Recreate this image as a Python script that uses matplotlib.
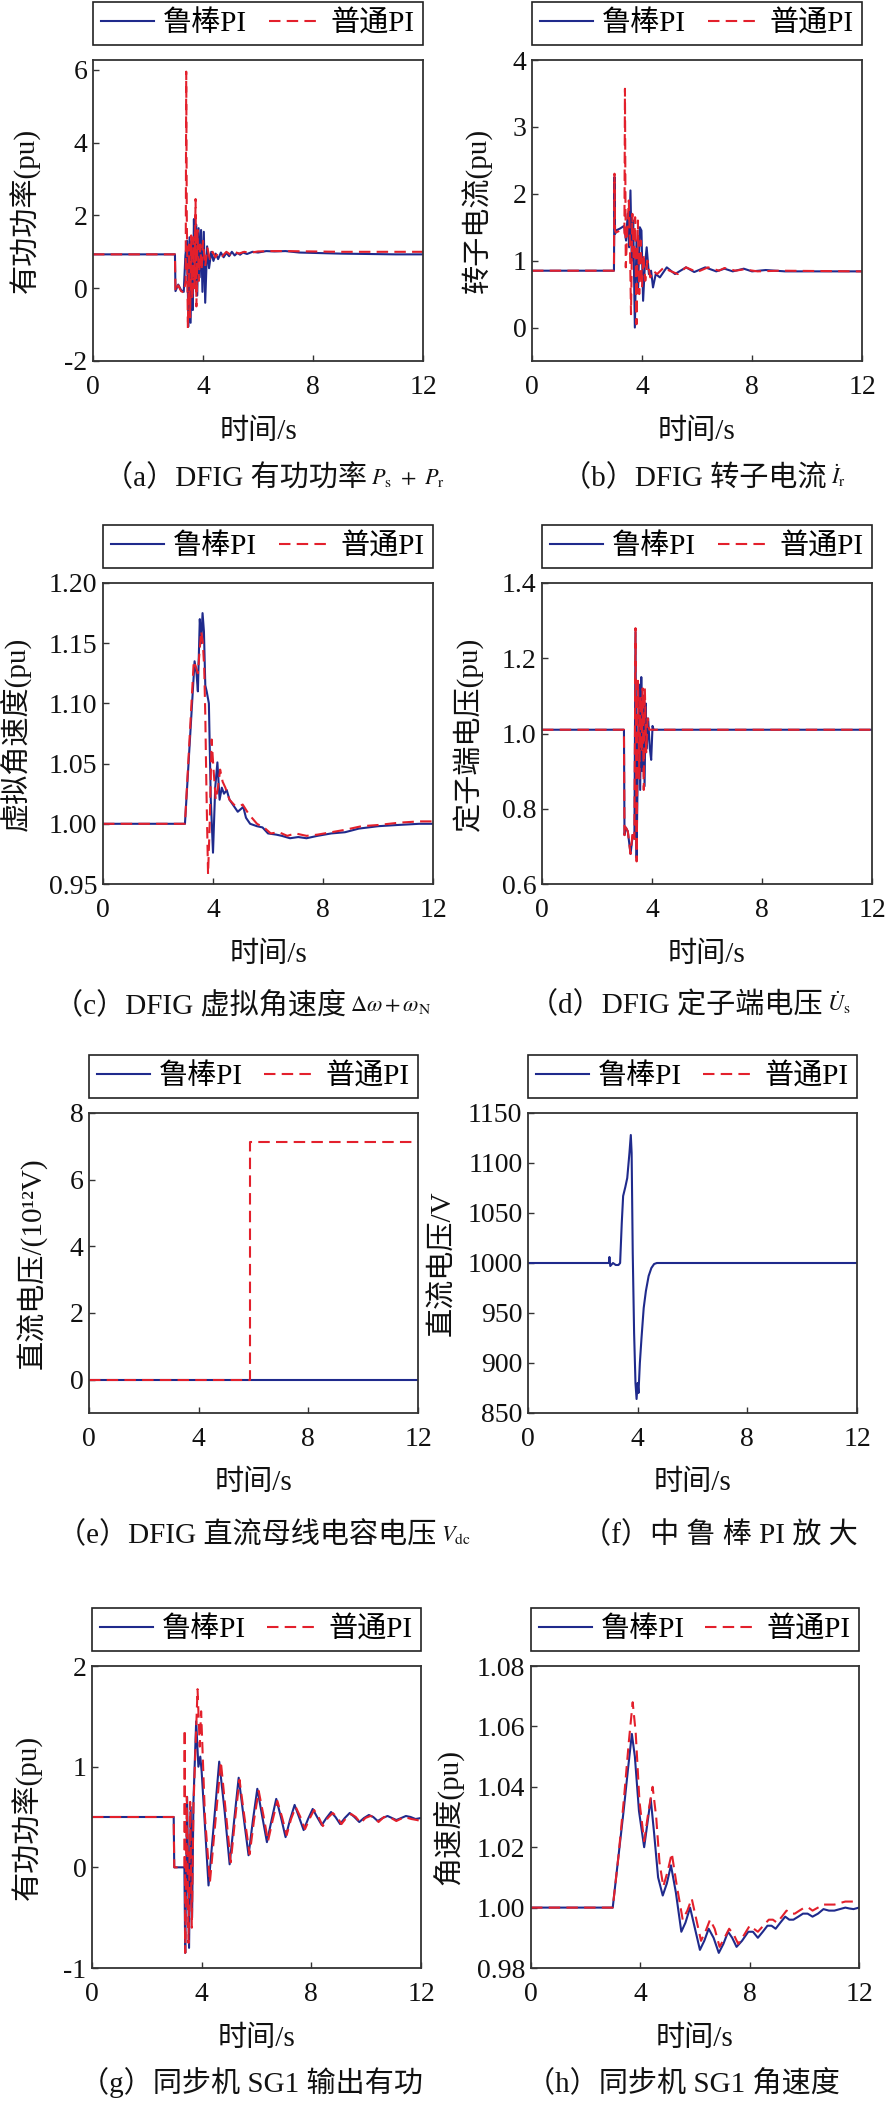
"""
DFIG robust PI vs normal PI: eight time-domain responses (a)-(h)
"""

import matplotlib
matplotlib.use("Agg")
import matplotlib.pyplot as plt

plt.rcParams["font.family"] = ["Liberation Serif", "Noto Sans CJK SC"]
plt.rcParams["mathtext.fontset"] = "stix"
plt.rcParams["axes.unicode_minus"] = True

BLUE = "#1f2a8c"
RED = "#e3202c"
FRAME = "#333333"

legend_labels = ["鲁棒PI", "普通PI"]
x_ticks = [0, 4, 8, 12]
x_label = "时间/s"

# (a) DFIG active power Ps + Pr (pu)
a_t_robust = [0, 2.98, 3.0, 3.1, 3.2, 3.3, 3.36, 3.42, 3.47, 3.51, 3.55, 3.59, 3.63, 3.67, 3.71, 3.75, 3.79,
              3.84, 3.88, 3.93, 3.98, 4.03, 4.08, 4.15, 4.22, 4.3, 4.38, 4.46, 4.55, 4.65, 4.75, 4.85, 4.95,
              5.05, 5.15, 5.25, 5.35, 5.45, 5.6, 5.8, 6.0, 6.3, 6.6, 7.0, 7.5, 8.0, 9.0, 10.0, 11.0, 12.0]
a_robust = [0.93, 0.93, -0.08, 0.1, -0.05, -0.1, 0.9, 1.3, -1.05, 1.4, -0.95, 1.3, -0.6, 1.9, 0.1, 1.75, -0.2,
            1.65, 0.3, 1.6, -0.1, 1.55, -0.4, 1.15, 0.55, 1.0, 0.75, 0.95, 0.8, 0.98, 0.85, 0.97, 0.88,
            1.0, 0.9, 0.97, 0.92, 0.98, 0.94, 1.0, 0.98, 1.02, 1.01, 1.02, 0.98, 0.97, 0.95, 0.94, 0.93, 0.93]
a_t_normal = [0, 2.98, 3.0, 3.1, 3.2, 3.3, 3.37, 3.39, 3.41, 3.45, 3.49, 3.53, 3.57, 3.61, 3.65, 3.69, 3.73,
              3.76, 3.8, 3.85, 3.9, 3.95, 4.0, 4.08, 4.16, 4.25, 4.35, 4.45, 4.55, 4.7, 4.85, 5.0, 5.15,
              5.3, 5.5, 5.7, 6.0, 6.5, 7.0, 8.0, 9.0, 10.0, 11.0, 12.0]
a_normal = [0.93, 0.93, -0.1, 0.08, -0.08, -0.12, 0.2, 5.95, 2.0, -1.1, 1.2, -0.8, 1.45, -0.3, 1.4, 0.0, 2.45,
            -0.5, 1.6, 0.2, 1.2, 0.5, 1.3, 0.6, 1.1, 0.8, 1.0, 0.85, 0.97, 0.88, 1.0, 0.92, 1.0,
            0.95, 1.0, 0.97, 1.01, 1.02, 1.02, 1.01, 1.0, 1.0, 1.0, 1.0]

# (b) DFIG rotor current (pu)
b_t_robust = [0, 2.98, 3.0, 3.02, 3.05, 3.2, 3.35, 3.42, 3.48, 3.53, 3.58, 3.63, 3.68, 3.74, 3.8, 3.86, 3.92,
              3.98, 4.04, 4.1, 4.17, 4.25, 4.33, 4.4, 4.5, 4.65, 4.9, 5.2, 5.6, 5.9, 6.3, 6.7, 7.0, 7.3,
              7.7, 8.0, 8.5, 9.2, 10.0, 12.0]
b_robust = [0.85, 0.85, 2.25, 1.4, 1.45, 1.48, 1.52, 1.3, 1.7, 1.2, 2.05, 1.0, 1.6, 0.0, 1.3, 0.6, 1.5,
            1.45, 0.4, 0.9, 1.2, 0.8, 0.85, 0.6, 0.8, 0.75, 0.9, 0.8, 0.9, 0.83, 0.9, 0.84, 0.88, 0.84,
            0.88, 0.84, 0.86, 0.84, 0.84, 0.84]
b_t_normal = [0, 2.98, 3.0, 3.02, 3.05, 3.2, 3.36, 3.38, 3.41, 3.47, 3.52, 3.56, 3.6, 3.65, 3.7, 3.75, 3.8,
              3.85, 3.9, 3.95, 4.0, 4.05, 4.12, 4.2, 4.3, 4.4, 4.55, 4.8, 5.0, 5.3, 5.6, 6.0, 6.4, 6.8,
              7.0, 7.4, 7.7, 8.2, 9.0, 12.0]
b_normal = [0.85, 0.85, 2.3, 1.45, 1.42, 1.45, 1.4, 3.57, 0.9, 1.5, 1.9, 1.3, 0.2, 1.7, 1.0, 1.65, 0.05,
            1.6, 0.5, 1.3, 0.6, 1.1, 0.7, 1.0, 0.75, 0.85, 0.8, 0.9, 0.85, 0.8, 0.9, 0.83, 0.9, 0.85,
            0.89, 0.85, 0.87, 0.84, 0.85, 0.84]

# (c) DFIG virtual angular speed (pu)
c_t_robust = [0, 2.98, 3.33, 3.4, 3.45, 3.52, 3.57, 3.62, 3.67, 3.72, 3.77, 3.85, 3.92, 4.0, 4.08, 4.16,
              4.24, 4.32, 4.4, 4.5, 4.6, 4.75, 4.9, 5.0, 5.1, 5.2, 5.35, 5.6, 5.8, 6.0, 6.3, 6.5, 6.8,
              7.1, 7.4, 7.8, 8.3, 8.8, 9.3, 10.0, 10.7, 11.5, 12.0]
c_robust = [1.0, 1.0, 1.135, 1.125, 1.11, 1.17, 1.15, 1.175, 1.16, 1.115, 1.11, 1.10, 1.02, 0.976, 1.03,
            1.051, 1.02, 1.03, 1.025, 1.028, 1.02, 1.015, 1.01, 1.012, 1.014, 1.005, 1.0, 0.998, 0.997,
            0.992, 0.991, 0.990, 0.988, 0.989, 0.988, 0.990, 0.992, 0.993, 0.996, 0.998, 0.999, 1.0, 1.0]
c_t_normal = [0, 2.98, 3.3, 3.38, 3.45, 3.5, 3.57, 3.63, 3.68, 3.72, 3.76, 3.82, 3.88, 3.95, 4.02, 4.1,
              4.18, 4.26, 4.35, 4.45, 4.6, 4.8, 5.0, 5.08, 5.3, 5.6, 5.9, 6.1, 6.4, 6.7, 7.0, 7.4, 7.8,
              8.3, 8.8, 9.4, 10.0, 10.8, 11.5, 12.0]
c_normal = [1.0, 1.0, 1.135, 1.13, 1.125, 1.14, 1.16, 1.15, 1.13, 1.09, 1.03, 0.958, 1.0, 1.07, 1.045,
            1.02, 1.03, 1.045, 1.035, 1.03, 1.02, 1.015, 1.015, 1.016, 1.008, 1.0, 0.996, 0.992, 0.993,
            0.99, 0.992, 0.99, 0.991, 0.993, 0.995, 0.998, 0.999, 1.001, 1.002, 1.002]

# (d) DFIG stator terminal voltage (pu)
d_t_robust = [0, 2.98, 3.0, 3.05, 3.12, 3.22, 3.3, 3.36, 3.4, 3.44, 3.48, 3.53, 3.57, 3.61, 3.65, 3.69,
              3.73, 3.77, 3.81, 3.86, 3.92, 3.97, 4.02, 4.06, 12.0]
d_robust = [1.01, 1.01, 0.73, 0.75, 0.74, 0.68, 0.73, 0.72, 1.27, 0.67, 0.9, 1.13, 0.85, 1.15, 0.9, 1.1,
            0.86, 1.08, 0.96, 1.04, 0.96, 0.93, 1.02, 1.01, 1.01]
d_t_normal = [0, 2.98, 3.0, 3.05, 3.12, 3.22, 3.3, 3.36, 3.4, 3.44, 3.49, 3.54, 3.58, 3.62, 3.66, 3.7,
              3.74, 3.79, 3.84, 3.9, 12.0]
d_normal = [1.01, 1.01, 0.73, 0.75, 0.74, 0.68, 0.74, 0.72, 1.28, 0.66, 1.14, 0.88, 1.1, 0.95, 1.12, 0.85,
            1.12, 0.95, 1.04, 1.01, 1.01]

# (e) DC-link capacitor voltage (10^12 V)
e_t_robust = [0, 12.0]
e_robust = [0, 0]
e_t_normal = [0, 5.86, 5.86, 12.0]
e_normal = [0, 0, 7.12, 7.12]

# (f) zoom of robust PI DC voltage (V)
f_t_robust = [0, 2.95, 2.97, 3.0, 3.1, 3.2, 3.3, 3.36, 3.42, 3.47, 3.55, 3.62, 3.7, 3.75, 3.78, 3.82, 3.87,
              3.92, 3.96, 4.0, 4.03, 4.08, 4.14, 4.22, 4.3, 4.4, 4.5, 4.6, 4.7, 12.0]
f_robust = [1000, 1000, 1006, 997, 1000, 998, 998, 1000, 1040, 1067, 1076, 1085, 1110, 1128, 1110, 1010, 930,
            880, 864, 880, 870, 900, 925, 955, 972, 987, 995, 999, 1000, 1000]

# (g) SG1 active power output (pu)
g_t_robust = [0, 2.98, 3.0, 3.37, 3.4, 3.47, 3.54, 3.6, 3.65, 3.7, 3.8, 3.88, 3.95, 4.0, 4.1, 4.25, 4.45,
              4.64, 4.84, 5.02, 5.19, 5.35, 5.53, 5.71, 5.87, 6.03, 6.2, 6.38, 6.55, 6.72, 6.89, 7.06, 7.22,
              7.39, 7.55, 7.72, 7.88, 8.05, 8.21, 8.38, 8.55, 8.72, 8.88, 9.05, 9.22, 9.4, 9.57, 9.75, 9.92,
              10.1, 10.26, 10.42, 10.6, 10.78, 10.94, 11.1, 11.28, 11.45, 11.62, 11.8, 12.0]
g_robust = [0.5, 0.5, 0.0, 0.0, -0.85, 0.7, -0.8, 0.6, -0.5, 0.65, 1.45, 1.0, 1.1, 0.95, 0.5, -0.18, 0.45,
            1.05, 0.55, 0.03, 0.48, 0.89, 0.5, 0.12, 0.47, 0.78, 0.52, 0.25, 0.47, 0.68, 0.5, 0.3, 0.47,
            0.62, 0.5, 0.37, 0.48, 0.58, 0.5, 0.42, 0.49, 0.55, 0.5, 0.43, 0.49, 0.54, 0.5, 0.45, 0.49,
            0.52, 0.5, 0.46, 0.49, 0.51, 0.49, 0.47, 0.49, 0.51, 0.5, 0.48, 0.49]
g_t_normal = [0, 2.98, 3.0, 3.37, 3.38, 3.4, 3.46, 3.52, 3.58, 3.64, 3.7, 3.85, 3.93, 3.98, 4.12, 4.3, 4.5,
              4.7, 4.88, 5.06, 5.22, 5.38, 5.56, 5.75, 5.91, 6.08, 6.25, 6.42, 6.59, 6.76, 6.93, 7.1, 7.26,
              7.43, 7.6, 7.77, 7.93, 8.1, 8.26, 8.42, 8.6, 8.78, 8.94, 9.1, 9.27, 9.45, 9.62, 9.8, 9.97,
              10.15, 10.3, 10.45, 10.65, 10.85, 11.1, 11.4, 11.65, 11.85, 12.0]
g_normal = [0.5, 0.5, 0.0, 0.0, 1.37, -0.85, 0.7, -0.75, 0.65, -0.6, 0.6, 1.77, 1.2, 1.55, 0.5, -0.15, 0.45,
            1.05, 0.55, 0.05, 0.48, 0.87, 0.5, 0.13, 0.47, 0.76, 0.52, 0.26, 0.47, 0.66, 0.5, 0.32, 0.48,
            0.6, 0.5, 0.38, 0.48, 0.57, 0.5, 0.41, 0.49, 0.54, 0.5, 0.43, 0.49, 0.53, 0.5, 0.44, 0.49,
            0.51, 0.5, 0.45, 0.5, 0.5, 0.46, 0.5, 0.48, 0.47, 0.46]

# (h) SG1 angular speed (pu)
h_t_robust = [0, 2.99, 3.2, 3.4, 3.55, 3.69, 3.8, 3.95, 4.14, 4.26, 4.38, 4.5, 4.65, 4.82, 4.97, 5.12, 5.3,
              5.5, 5.65, 5.82, 6.0, 6.18, 6.34, 6.5, 6.68, 6.87, 7.04, 7.21, 7.36, 7.52, 7.72, 7.95, 8.12,
              8.3, 8.48, 8.65, 8.8, 8.95, 9.12, 9.3, 9.45, 9.6, 9.78, 9.95, 10.12, 10.3, 10.5, 10.7, 10.9,
              11.1, 11.3, 11.5, 11.65, 11.8, 12.0]
h_robust = [1.0, 1.0, 1.017, 1.033, 1.046, 1.0575, 1.05, 1.032, 1.02, 1.028, 1.036, 1.025, 1.01, 1.004, 1.008,
            1.014, 1.005, 0.992, 0.995, 1.0, 0.993, 0.986, 0.989, 0.993, 0.99, 0.985, 0.988, 0.992, 0.99,
            0.987, 0.989, 0.992, 0.992, 0.990, 0.992, 0.994, 0.994, 0.993, 0.995, 0.997, 0.996, 0.996,
            0.997, 0.998, 0.998, 0.997, 0.998, 0.9995, 0.999, 0.999, 0.9995, 1.0, 0.9997, 0.9995, 1.0]
h_t_normal = [0, 2.99, 3.2, 3.4, 3.58, 3.72, 3.83, 3.97, 4.14, 4.3, 4.45, 4.58, 4.7, 4.84, 5.0, 5.15, 5.32,
              5.55, 5.72, 5.88, 6.05, 6.22, 6.38, 6.55, 6.72, 6.9, 7.08, 7.25, 7.42, 7.58, 7.8, 8.0, 8.15,
              8.3, 8.5, 8.7, 8.85, 9.0, 9.18, 9.35, 9.5, 9.65, 9.82, 10.0, 10.15, 10.3, 10.5, 10.7, 10.9,
              11.1, 11.3, 11.5, 11.7, 11.85, 12.0]
h_normal = [1.0, 1.0, 1.017, 1.036, 1.055, 1.068, 1.058, 1.035, 1.022, 1.032, 1.04, 1.03, 1.015, 1.007, 1.012,
            1.018, 1.008, 0.996, 0.999, 1.003, 0.996, 0.989, 0.992, 0.996, 0.993, 0.987, 0.99, 0.993, 0.991,
            0.988, 0.991, 0.994, 0.993, 0.992, 0.994, 0.996, 0.996, 0.995, 0.997, 0.999, 0.998, 0.998,
            0.999, 1.0, 1.0, 0.999, 1.0, 1.001, 1.001, 1.001, 1.0015, 1.002, 1.002, 1.002, 1.002]

W, H = 885, 2106
fig = plt.figure(figsize=(W / 100, H / 100), dpi=100)


def px_rect(x0, y0, x1, y1):
    return [x0 / W, 1 - y1 / H, (x1 - x0) / W, (y1 - y0) / H]


def panel(box, robust, normal, ylim, yticks, yfmt, ylabel, ylabel_x):
    ax = fig.add_axes(px_rect(*box))
    h_px = box[3] - box[1]
    if robust is not None:
        ax.plot(robust[0], robust[1], color=BLUE, lw=1.5, label=legend_labels[0])
    else:
        ax.plot([], [], color=BLUE, lw=1.5, label=legend_labels[0])
    if normal is not None:
        ax.plot(normal[0], normal[1], color=RED, lw=1.5, ls=(0, (5.5, 3)), label=legend_labels[1])
    else:
        ax.plot([], [], color=RED, lw=1.5, ls=(0, (5.5, 3)), label=legend_labels[1])
    ax.set_xlim(0, 12)
    ax.set_ylim(*ylim)
    ax.set_xticks(x_ticks)
    ax.set_yticks(yticks)
    ax.set_yticklabels([yfmt.format(v) for v in yticks])
    ax.tick_params(direction="in", top=False, right=False, length=4, width=1, colors=FRAME,
                   labelcolor="#111111", labelsize=20)
    ax.tick_params(axis="x", pad=10)
    ax.tick_params(axis="y", pad=4)
    for s in ax.spines.values():
        s.set_linewidth(1.3)
        s.set_color(FRAME)
    ax.set_xlabel(x_label, fontsize=21, color="#111111")
    ax.xaxis.set_label_coords(0.5, -0.19)
    ax.set_ylabel(ylabel, fontsize=21, color="#111111")
    ax.yaxis.set_label_coords(ylabel_x, 0.5)
    leg = ax.legend(loc="lower left", bbox_to_anchor=(0, 1 + 15 / h_px, 1, 45 / h_px), mode="expand",
                    ncol=2, fontsize=21, frameon=True, fancybox=False, edgecolor="#222222",
                    framealpha=1, borderpad=0.28, handlelength=1.8, handletextpad=0.3,
                    columnspacing=0.7, borderaxespad=0)
    leg.get_frame().set_linewidth(1.2)
    return ax


def caption(ax, x, y, main, math=None):
    t = fig.text(x / W, 1 - y / H, main, ha="left", va="center", fontsize=21, color="#111111")
    if math:
        ax.annotate(math, xy=(1, 0.1), xycoords=t, xytext=(3, 0), textcoords="offset points",
                    ha="left", va="bottom", fontsize=16, color="#111111")


ax_a = panel((93, 60, 423, 361), (a_t_robust, a_robust), (a_t_normal, a_normal),
             (-2, 6.27), [-2, 0, 2, 4, 6], "{:g}", "有功功率(pu)", -0.158)
ax_b = panel((532, 60, 862, 361), (b_t_robust, b_robust), (b_t_normal, b_normal),
             (-0.5, 4), [0, 1, 2, 3, 4], "{:g}", "转子电流(pu)", -0.118)
ax_c = panel((103, 583, 433, 884), (c_t_robust, c_robust), (c_t_normal, c_normal),
             (0.95, 1.20), [0.95, 1.00, 1.05, 1.10, 1.15, 1.20], "{:.2f}", "虚拟角速度(pu)", -0.22)
ax_d = panel((542, 583, 872, 884), (d_t_robust, d_robust), (d_t_normal, d_normal),
             (0.6, 1.4), [0.6, 0.8, 1.0, 1.2, 1.4], "{:.1f}", "定子端电压(pu)", -0.178)
ax_e = panel((89, 1113, 418, 1413), (e_t_robust, e_robust), (e_t_normal, e_normal),
             (-1, 8), [0, 2, 4, 6, 8], "{:g}", "直流电压/(10¹²V)", -0.125)
ax_f = panel((528, 1113, 857, 1413), (f_t_robust, f_robust), None,
             (850, 1150), [850, 900, 950, 1000, 1050, 1100, 1150], "{:g}", "直流电压/V", -0.218)
ax_g = panel((92, 1666, 421, 1968), (g_t_robust, g_robust), (g_t_normal, g_normal),
             (-1, 2), [-1, 0, 1, 2], "{:g}", "有功功率(pu)", -0.148)
ax_h = panel((531, 1666, 859, 1968), (h_t_robust, h_robust), (h_t_normal, h_normal),
             (0.98, 1.08), [0.98, 1.00, 1.02, 1.04, 1.06, 1.08], "{:.2f}", "角速度(pu)", -0.206)

caption(ax_a, 104, 478, "（a）DFIG 有功功率", r"$P_{\rm s}\ +\ P_{\rm r}$")
caption(ax_b, 562, 478, "（b）DFIG 转子电流", r"$\dot{I}_{\rm r}$")
caption(ax_c, 54, 1005, "（c）DFIG 虚拟角速度", r"$\Delta\omega+\omega_{\rm N}$")
caption(ax_d, 529, 1005, "（d）DFIG 定子端电压", r"$\dot{U}_{\rm s}$")
caption(ax_e, 57, 1535, "（e）DFIG 直流母线电容电压", r"$V_{\rm dc}$")
caption(ax_f, 582, 1535, "（f）中 鲁 棒 PI 放 大")
caption(ax_g, 80, 2083, "（g）同步机 SG1 输出有功")
caption(ax_h, 526, 2083, "（h）同步机 SG1 角速度")

fig.savefig("out.png", dpi=100, facecolor="white")
